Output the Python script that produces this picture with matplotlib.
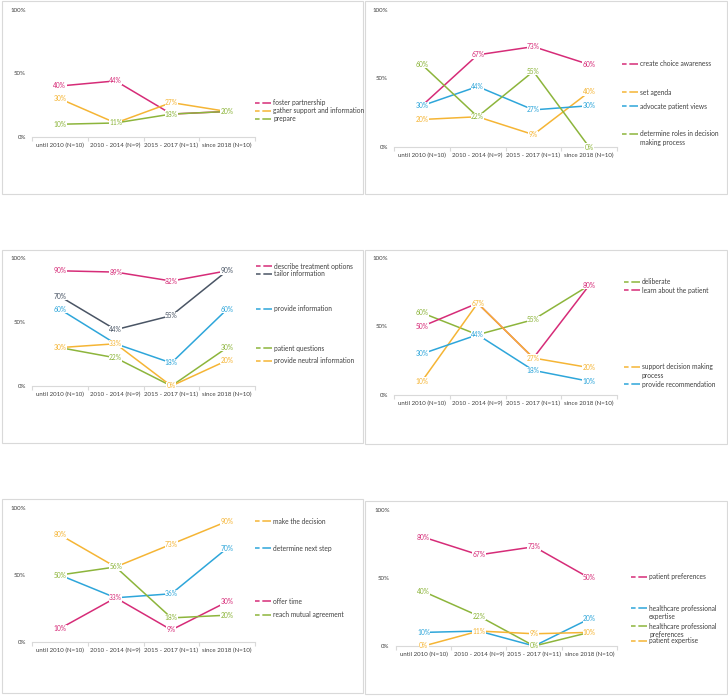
import matplotlib
matplotlib.use('Agg')
import matplotlib.pyplot as plt
from matplotlib.lines import Line2D
from matplotlib.patches import Rectangle

plt.rcParams['font.family'] = ['Lato', 'DejaVu Sans']

periods = ['until 2010 (N=10)', '2010 - 2014 (N=9)', '2015 - 2017 (N=11)', 'since 2018 (N=10)']

PINK = '#D62C78'
ORANGE = '#F5B535'
GREEN = '#8DB53C'
BLUE = '#2EA6DA'
GREY = '#4A5565'

# panel 1
p1_names = ['foster partnership', 'gather support and information', 'prepare']
p1_values = [[40, 44, 18, 20], [30, 11, 27, 20], [10, 11, 18, 20]]
p1_colors = [PINK, ORANGE, GREEN]

# panel 2
p2_names = ['create choice awareness', 'set agenda', 'advocate patient views',
            'determine roles in decision\nmaking process']
p2_values = [[30, 67, 73, 60], [20, 22, 9, 40], [30, 44, 27, 30], [60, 22, 55, 0]]
p2_colors = [PINK, ORANGE, BLUE, GREEN]

# panel 3
p3_names = ['describe treatment options', 'tailor information', 'provide information',
            'patient questions', 'provide neutral information']
p3_values = [[90, 89, 82, 90], [70, 44, 55, 90], [60, 33, 18, 60],
             [30, 22, 0, 30], [30, 33, 0, 20]]
p3_colors = [PINK, GREY, BLUE, GREEN, ORANGE]

# panel 4
p4_names = ['deliberate', 'learn about the patient', 'support decision making\nprocess',
            'provide recommendation']
p4_values = [[60, 44, 55, 80], [50, 67, 27, 80], [10, 67, 27, 20], [30, 44, 18, 10]]
p4_colors = [GREEN, PINK, ORANGE, BLUE]

# panel 5
p5_names = ['make the decision', 'determine next step', 'offer time', 'reach mutual agreement']
p5_values = [[80, 56, 73, 90], [50, 33, 36, 70], [10, 33, 9, 30], [50, 56, 18, 20]]
p5_colors = [ORANGE, BLUE, PINK, GREEN]

# panel 6
p6_names = ['patient preferences', 'healthcare professional\nexpertise',
            'healthcare professional\npreferences', 'patient expertise']
p6_values = [[80, 67, 73, 50], [10, 11, 0, 20], [40, 22, 0, 10], [0, 11, 9, 10]]
p6_colors = [PINK, BLUE, GREEN, ORANGE]

W, H = 728, 696
fig = plt.figure(figsize=(W / 100, H / 100), dpi=100)
FS = 4.8      # legend / data labels
TFS = 4.45    # axis tick labels


def fx(px):
    return px / W


def fy(py):
    return 1 - py / H


def draw_panel(names, values, colors, box, area, leg_x, leg_y):
    bx0, by0, bx1, by1 = box
    fig.patches.append(Rectangle((fx(bx0), fy(by1)), fx(bx1 - bx0), (by1 - by0) / H,
                                 transform=fig.transFigure, facecolor='none',
                                 edgecolor='#D9D9D9', lw=0.8))
    x0, x1, ytop, ybot = area
    ax = fig.add_axes([fx(x0), fy(ybot), fx(x1 - x0), (ybot - ytop) / H])
    ax.patch.set_alpha(0)
    xs = range(len(periods))
    for vals, c in zip(values, colors):
        ax.plot(xs, vals, color=c, lw=1.1, solid_joinstyle='round')
    for vals, c in zip(values, colors):
        for i, v in zip(xs, vals):
            ax.text(i, v, f'{v}%', color=c, fontsize=FS, ha='center', va='center',
                    bbox=dict(boxstyle='square,pad=0.05', fc='white', ec='none'))
    ax.set_xlim(-0.5, 3.5)
    ax.set_ylim(0, 100)
    ax.set_yticks([0, 50, 100])
    ax.set_yticklabels(['0%', '50%', '100%'])
    ax.set_xticks(list(xs))
    ax.set_xticklabels(periods)
    ax.set_xticks([-0.5, 0.5, 1.5, 2.5, 3.5], minor=True)
    ax.tick_params(axis='both', which='major', length=0, labelsize=TFS, colors='#404040')
    ax.tick_params(axis='y', pad=4.5)
    ax.tick_params(axis='x', pad=4)
    ax.tick_params(axis='x', which='minor', length=3, color='#D9D9D9', width=0.8)
    for s in ['top', 'right', 'left']:
        ax.spines[s].set_visible(False)
    ax.spines['bottom'].set_color('#D9D9D9')
    ax.spines['bottom'].set_linewidth(0.8)
    # legend
    for name, c, y in zip(names, colors, leg_y):
        fig.add_artist(Line2D([fx(leg_x), fx(leg_x + 16)], [fy(y), fy(y)],
                              transform=fig.transFigure, color=c, lw=1.1,
                              dashes=(3.0, 1.8, 6.5, 1.5)))
        for k, line in enumerate(name.split('\n')):
            fig.text(fx(leg_x + 18), fy(y + k * 8.5), line, fontsize=FS,
                     color='#404040', ha='left', va='center')


draw_panel(p1_names, p1_values, p1_colors, (2, 1, 363, 194), (32, 255, 9.5, 137),
           255, [103, 111, 119])
draw_panel(p2_names, p2_values, p2_colors, (365, 1, 727, 194), (394, 617, 9.5, 147),
           622, [64, 92, 106, 134])
draw_panel(p3_names, p3_values, p3_colors, (2, 250, 363, 443), (32, 255, 258, 386),
           256, [266, 274, 309, 348, 361])
draw_panel(p4_names, p4_values, p4_colors, (365, 250, 727, 444), (394, 617, 258, 395),
           624, [282, 290, 367, 384])
draw_panel(p5_names, p5_values, p5_colors, (2, 499, 363, 693), (32, 255, 508, 642),
           255, [521, 548, 601, 615])
draw_panel(p6_names, p6_values, p6_colors, (365, 501, 727, 694), (396, 617, 510, 646),
           631, [577, 608, 626, 641])

fig.savefig('out.png', dpi=100)
